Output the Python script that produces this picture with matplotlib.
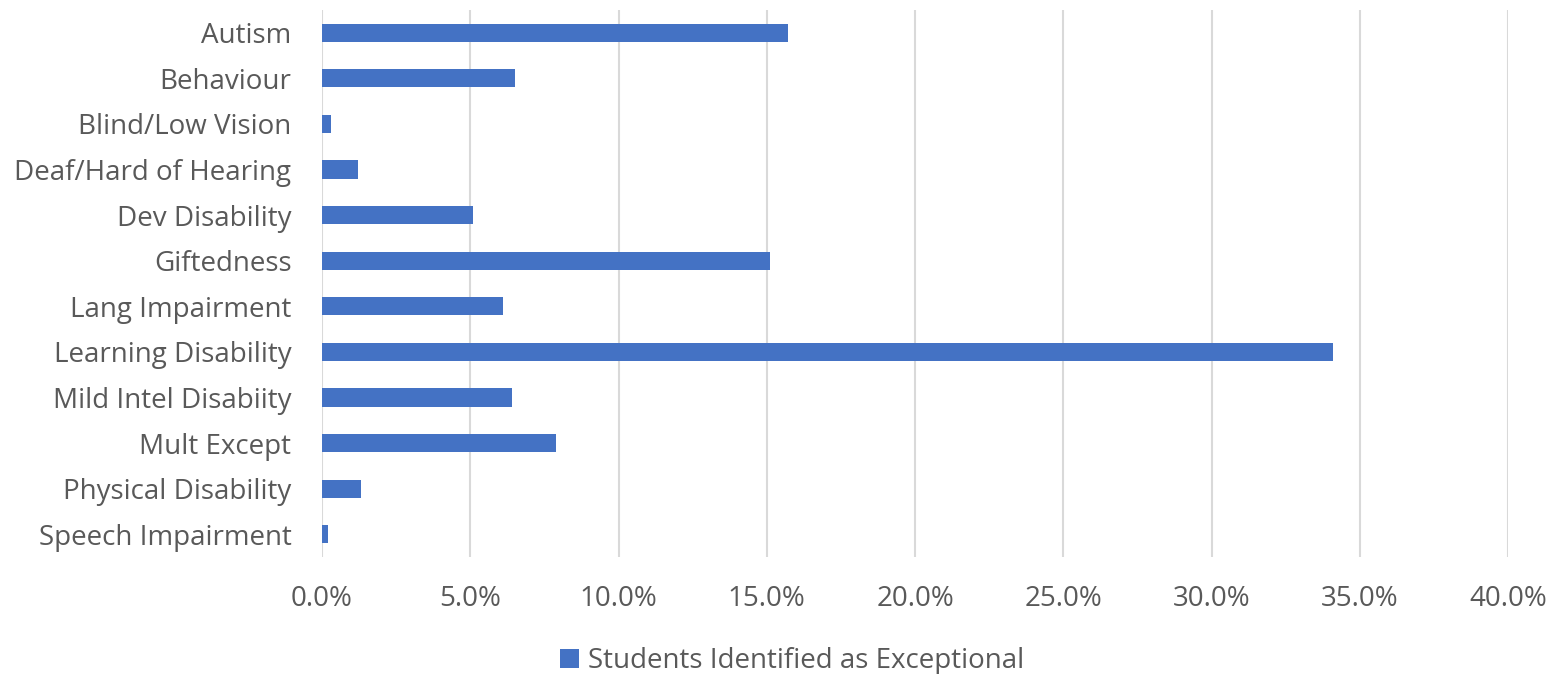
import matplotlib.pyplot as plt
import numpy as np
from matplotlib.ticker import PercentFormatter

categories = ["Autism", "Behaviour", "Blind/Low Vision", "Deaf/Hard of Hearing",
              "Dev Disability", "Giftedness", "Lang Impairment", "Learning Disability",
              "Mild Intel Disabiity", "Mult Except", "Physical Disability",
              "Speech Impairment"]
share = [15.7, 6.5, 0.3, 1.2, 5.1, 15.1, 6.1, 34.1, 6.4, 7.9, 1.3, 0.2]
series_name = "Students Identified as Exceptional"

plt.rcParams['font.family'] = ['Open Sans', 'DejaVu Sans']
grey = '#595959'

fig = plt.figure(figsize=(15.55, 6.74), dpi=100)
ax = fig.add_axes([322 / 1555, 1 - 557 / 674, (1508 - 322) / 1555, 547 / 674])

y = np.arange(len(categories))
ax.barh(y, share, height=0.4, color='#4472C4', label=series_name, zorder=3)

ax.set_xlim(0, 40)
ax.set_ylim(len(categories) - 0.5, -0.5)
ax.set_xticks(np.arange(0, 41, 5))
ax.xaxis.set_major_formatter(PercentFormatter(decimals=1))
ax.set_yticks(y)
ax.set_yticklabels(categories)

ax.grid(axis='x', color='#d9d9d9', linewidth=1.5, zorder=0)
for s in ax.spines.values():
    s.set_visible(False)
ax.tick_params(axis='both', length=0, labelsize=20, labelcolor=grey)
ax.tick_params(axis='x', pad=20)
ax.tick_params(axis='y', pad=22)

leg = fig.legend(loc='center', bbox_to_anchor=(792 / 1555, 1 - 661 / 674), frameon=False,
                 fontsize=20, handlelength=0.7, handleheight=0.7, handletextpad=0.3)
for t in leg.get_texts():
    t.set_color(grey)

fig.savefig("out.png", dpi=100)
